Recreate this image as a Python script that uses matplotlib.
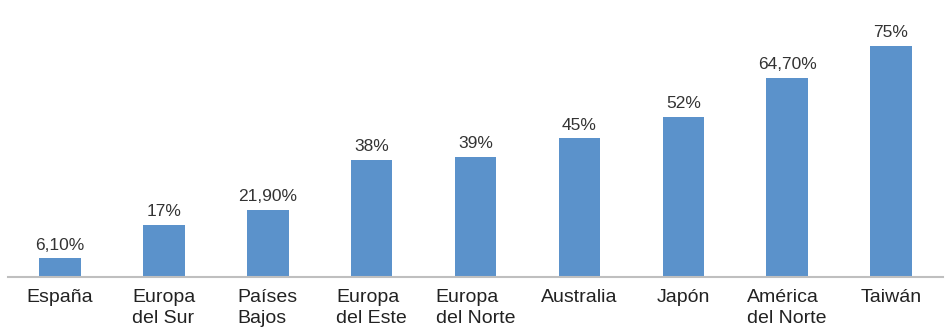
import matplotlib.pyplot as plt

# Datos del gráfico
regiones = ['España', 'Europa\ndel Sur', 'Países\nBajos', 'Europa\ndel Este', 'Europa\ndel Norte',
            'Australia', 'Japón', 'América\ndel Norte', 'Taiwán']
valores = [6.1, 17, 21.9, 38, 39, 45, 52, 64.7, 75]
etiquetas = ['6,10%', '17%', '21,90%', '38%', '39%', '45%', '52%', '64,70%', '75%']

plt.rcParams['font.family'] = ['Liberation Sans', 'DejaVu Sans']

fig = plt.figure(figsize=(9.48, 3.31), dpi=100)
ax = fig.add_axes([8 / 948, 54 / 331, 935 / 948, 277 / 331])

x = range(len(regiones))
barras = ax.bar(x, valores, width=0.4, color='#5B92CB')

for b, txt in zip(barras, etiquetas):
    ax.annotate(txt, (b.get_x() + b.get_width() / 2, b.get_height()),
                xytext=(0, 4), textcoords='offset points',
                ha='center', va='bottom', fontsize=12.5, color='#333333')

ax.set_xlim(-0.5, 8.5)
ax.set_ylim(0, 89.9)
ax.set_xticks(list(x))
ax.set_xticklabels(regiones, fontsize=14, color='#222222', linespacing=1.3,
                   multialignment='left')
ax.tick_params(axis='x', length=0, pad=9)
ax.set_yticks([])

for lado in ['top', 'right', 'left']:
    ax.spines[lado].set_visible(False)
ax.spines['bottom'].set_color('#BFBFBF')
ax.spines['bottom'].set_linewidth(1.5)

fig.savefig('out.png', dpi=100)
